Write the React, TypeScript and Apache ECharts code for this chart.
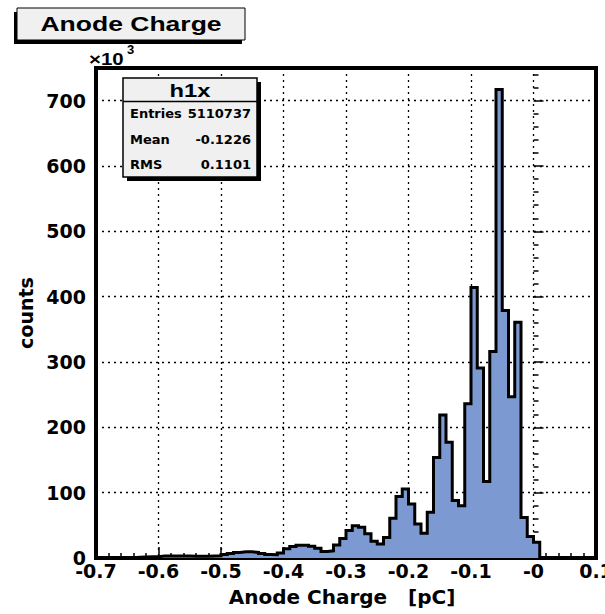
import React, { useEffect, useRef } from "react";
import * as echarts from "echarts";

// Histogram binning (pC)
const BIN_START = -0.7;
const BIN_WIDTH = 0.01;
// Bin contents in thousands of counts (x10^3), one per 0.01 pC bin from -0.70 to 0.10
const COUNTS: number[] = [
  0.5, 0.5, 0.5, 0.5, 0.5, 0.5, 1, 1.5, 2, 2,
  3, 3, 3, 3, 3, 2.5, 2.5, 2.5, 3, 3.5,
  5.5, 7, 8.5, 9.5, 9.5, 8.5, 7, 5.5, 5, 7.5,
  14, 17.5, 19.5, 19.5, 18, 15, 10, 11, 20, 30,
  42, 49.5, 47, 37, 25.5, 21.5, 31.5, 61, 94, 105.5,
  82.5, 52, 38, 70, 154, 219, 177, 88, 80, 236,
  414, 291, 117, 316, 717, 379, 247, 361, 62, 33,
  24, 0, 0, 0, 0, 0, 0, 0, 0, 0,
];
const X_MIN = -0.7;
const X_MAX = 0.1;
const Y_MIN = 0;
const Y_MAX = 750;

const TITLE = "Anode Charge";
const X_TITLE = "Anode Charge\u00a0 \u00a0[pC]";
const Y_TITLE = "counts";
const STATS_NAME = "h1x";
const STATS_LABELS = ["Entries", "Mean", "RMS"];
const STATS_VALUES = ["5110737", "-0.1226", "0.1101"];

const FONT = '"DejaVu Sans", "Liberation Sans", Arial, sans-serif';
const HFONT = '"Liberation Sans", Arial, Helvetica, sans-serif';

export default function App() {
  const ref = useRef<HTMLDivElement>(null);
  useEffect(() => {
    if (!ref.current) return;
    const chart = echarts.init(ref.current, undefined, { renderer: "svg" });
    const data: number[][] = COUNTS.map((c, i) => [BIN_START + i * BIN_WIDTH, c]);
    data.push([BIN_START + COUNTS.length * BIN_WIDTH, 0]);

    const statsRowsY = [113, 139, 164];
    const statsGraphics: any[] = [];
    STATS_LABELS.forEach((lab, i) => {
      statsGraphics.push({
        type: "text",
        x: 130,
        y: statsRowsY[i],
        z: 102,
        style: { text: lab, font: `bold 13px ${FONT}`, fill: "#000", align: "left", verticalAlign: "middle" },
      });
      statsGraphics.push({
        type: "text",
        x: 251,
        y: statsRowsY[i],
        z: 102,
        style: { text: STATS_VALUES[i], font: `bold 13px ${FONT}`, fill: "#000", align: "right", verticalAlign: "middle" },
      });
    });

    const labelFmtX = (v: number) => {
      const s = v.toFixed(1);
      if (s === "0.0" || s === "-0.0") return "-0";
      return s;
    };

    chart.setOption({
      animation: false,
      backgroundColor: "#fff",
      grid: {
        left: 96,
        right: 9,
        top: 68,
        bottom: 56,
        containLabel: false,
        outerBoundsMode: "none",
        show: true,
        borderColor: "#000",
        borderWidth: 4,
        backgroundColor: "transparent",
      },
      xAxis: {
        type: "value",
        min: X_MIN,
        max: X_MAX,
        interval: 0.1,
        name: X_TITLE,
        nameLocation: "middle",
        nameGap: 29,
        nameTextStyle: { fontFamily: FONT, fontWeight: "bold", fontSize: 20, color: "#000", padding: [0, 8, 0, 0] },
        axisLine: { show: false },
        axisTick: { show: true, inside: true, length: 11, lineStyle: { color: "#000", width: 1.5 } },
        minorTick: { show: true, splitNumber: 5, length: 5, lineStyle: { color: "#000", width: 1.5 } },
        axisLabel: {
          fontFamily: FONT,
          fontWeight: "bold",
          fontSize: 19,
          color: "#000",
          margin: 3,
          formatter: labelFmtX,
          showMinLabel: true,
          showMaxLabel: true,
        },
        splitLine: { show: true, lineStyle: { color: "#000", width: 1.3, type: [2, 4] } },
      },
      yAxis: {
        type: "value",
        min: Y_MIN,
        max: Y_MAX,
        interval: 100,
        name: Y_TITLE,
        nameLocation: "middle",
        nameGap: 58,
        nameTextStyle: { fontFamily: FONT, fontWeight: "bold", fontSize: 19, color: "#000" },
        axisLine: { show: false },
        axisTick: { show: true, inside: true, length: 10, lineStyle: { color: "#000", width: 1.5 } },
        minorTick: { show: true, splitNumber: 5, length: 5, lineStyle: { color: "#000", width: 1.5 } },
        axisLabel: {
          fontFamily: FONT,
          fontWeight: "bold",
          fontSize: 19,
          color: "#000",
          margin: 10,
          showMaxLabel: false,
        },
        splitLine: { show: true, lineStyle: { color: "#000", width: 1.3, type: [2, 4] } },
      },
      series: [
        {
          type: "line",
          step: "end",
          data,
          symbol: "none",
          z: 3,
          lineStyle: { color: "#000", width: 3, join: "miter" },
          areaStyle: { color: "#7d99d1", opacity: 1, origin: "start" },
        },
      ],
      graphic: [
        { type: "rect", z: 100, shape: { x: 14, y: 12, width: 228, height: 32 }, style: { fill: "#000" } },
        {
          type: "rect",
          z: 101,
          shape: { x: 17, y: 8, width: 228, height: 32 },
          style: { fill: "#f0f0f0", stroke: "#000", lineWidth: 1 },
        },
        {
          type: "text",
          z: 102,
          x: 131,
          y: 24,
          scaleX: 1.36,
          style: { text: TITLE, font: `bold 19.5px ${HFONT}`, fill: "#000", align: "center", verticalAlign: "middle" },
        },
        {
          type: "text",
          z: 102,
          x: 89,
          y: 59,
          scaleX: 1.2,
          style: { text: "×10", font: `bold 17px ${HFONT}`, fill: "#000", align: "left", verticalAlign: "middle" },
        },
        {
          type: "text",
          z: 102,
          x: 127,
          y: 49,
          style: { text: "3", font: `bold 13px ${HFONT}`, fill: "#000", align: "left", verticalAlign: "middle" },
        },
        { type: "rect", z: 100, shape: { x: 127, y: 82, width: 134, height: 99 }, style: { fill: "#000" } },
        {
          type: "rect",
          z: 101,
          shape: { x: 123, y: 78, width: 134, height: 99 },
          style: { fill: "#f0f0f0", stroke: "#000", lineWidth: 1.5 },
        },
        {
          type: "line",
          z: 102,
          shape: { x1: 123, y1: 101.5, x2: 257, y2: 101.5 },
          style: { stroke: "#000", lineWidth: 1.5 },
        },
        {
          type: "text",
          z: 102,
          x: 190,
          y: 91,
          scaleX: 1.25,
          style: { text: STATS_NAME, font: `bold 19px ${HFONT}`, fill: "#000", align: "center", verticalAlign: "middle" },
        },
        ...statsGraphics,
      ],
    });
    return () => chart.dispose();
  }, []);
  return (
    <div
      ref={ref}
      style={{ position: "absolute", left: 0, top: 0, width: 605, height: 614, background: "#fff" }}
    />
  );
}
